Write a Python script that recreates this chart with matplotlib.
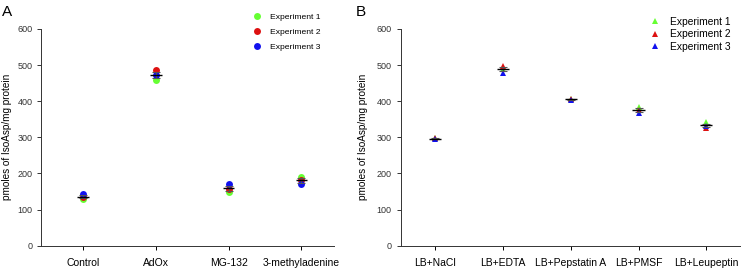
import numpy as np
import matplotlib
matplotlib.use("Agg")
import matplotlib.pyplot as plt

plt.rcParams['font.family'] = ['Liberation Sans', 'DejaVu Sans']

# panel A
cats_a = ["Control", "AdOx", "MG-132", "3-methyladenine"]
exp1_a = [129, 458, 148, 191]
exp2_a = [136, 487, 157, 181]
exp3_a = [142, 472, 172, 170]

# panel B
cats_b = ["LB+NaCl", "LB+EDTA", "LB+Pepstatin A", "LB+PMSF", "LB+Leupeptin"]
exp1_b = [298, 490, 405, 383, 342]
exp2_b = [297, 498, 406, 376, 326]
exp3_b = [294, 477, 403, 368, 331]

colors = ["#66ff33", "#dd1111", "#1111ee"]
labels = ["Experiment 1", "Experiment 2", "Experiment 3"]

fig = plt.figure(figsize=(7.41, 2.69), dpi=100)
ax_a = fig.add_axes([0.056, 0.0866, 0.395, 0.806])
ax_b = fig.add_axes([0.5408, 0.0866, 0.458, 0.806])


def draw(ax, cats, series, marker, half):
    x = np.arange(len(cats))
    data = np.array(series)
    mean = data.mean(axis=0)
    sem = data.std(axis=0, ddof=1) / np.sqrt(data.shape[0])
    for vals, c, lab in zip(series, colors, labels):
        ax.plot(x, vals, linestyle="none", marker=marker, ms=5, color=c,
                markeredgewidth=0, label=lab, zorder=3, clip_on=False)
    ax.errorbar(x, mean, yerr=sem, fmt="none", ecolor="#555555", elinewidth=0.8,
                capsize=3, capthick=0.8, zorder=4)
    ax.hlines(mean, x - half, x + half, color="black", lw=1.0, zorder=5)
    ax.set_xticks(x)
    ax.set_xticklabels(cats, fontsize=7.5)
    ax.set_ylim(0, 600)
    ax.set_yticks(range(0, 601, 100))
    ax.tick_params(axis="y", labelsize=6.5, length=3, width=0.7, colors="#333333")
    ax.tick_params(axis="x", length=3, width=0.7, pad=6)
    for s in ["top", "right"]:
        ax.spines[s].set_visible(False)
    for s in ["left", "bottom"]:
        ax.spines[s].set_linewidth(0.7)
        ax.spines[s].set_color("#333333")
    ax.set_ylabel("pmoles of IsoAsp/mg protein", fontsize=7.2)


draw(ax_a, cats_a, [exp1_a, exp2_a, exp3_a], "o", 0.08)
ax_a.set_xlim(-0.57, 3.45)
ax_a.yaxis.set_label_coords(-0.10, 0.5)
ax_a.legend(loc="upper right", bbox_to_anchor=(0.965, 1.09), fontsize=6.1,
            frameon=False, handletextpad=1.0, labelspacing=0.85,
            borderaxespad=0, handlelength=1.2)

draw(ax_b, cats_b, [exp1_b, exp2_b, exp3_b], "^", 0.09)
ax_b.set_xlim(-0.51, 4.5)
ax_b.yaxis.set_label_coords(-0.096, 0.5)
ax_b.legend(loc="upper right", bbox_to_anchor=(0.985, 1.075), fontsize=7.4,
            frameon=False, handletextpad=0.9, labelspacing=0.25,
            borderaxespad=0, handlelength=1.2)

fig.text(0.002, 0.94, "A", fontsize=11)
fig.text(0.480, 0.94, "B", fontsize=11)

fig.savefig("out.png", dpi=100)
